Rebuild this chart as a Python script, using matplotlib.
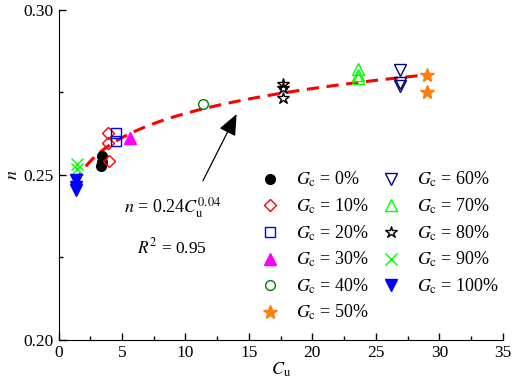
import numpy as np
import matplotlib
matplotlib.use("Agg")
import matplotlib.pyplot as plt
from matplotlib.ticker import MultipleLocator, FormatStrFormatter

plt.rcParams['font.family'] = ['Liberation Serif', 'DejaVu Serif']
plt.rcParams['mathtext.fontset'] = 'stix'

labels = ["0%", "10%", "20%", "30%", "40%", "50%", "60%", "70%", "80%", "90%", "100%"]
cu = {
    "0%": [3.4, 3.4, 3.35],
    "10%": [3.87, 3.87, 4.0],
    "20%": [4.53, 4.53],
    "30%": [5.6],
    "40%": [11.35],
    "50%": [29.0, 29.0],
    "60%": [26.9, 26.9, 26.9],
    "70%": [23.6, 23.6, 23.6],
    "80%": [17.65, 17.65, 17.65],
    "90%": [1.43, 1.43],
    "100%": [1.35, 1.35, 1.35],
}
nval = {
    "0%": [0.2558, 0.2538, 0.2526],
    "10%": [0.2626, 0.2598, 0.2543],
    "20%": [0.2628, 0.2604],
    "30%": [0.2612],
    "40%": [0.2714],
    "50%": [0.2803, 0.2752],
    "60%": [0.2818, 0.2778, 0.2770],
    "70%": [0.2820, 0.2803, 0.2793],
    "80%": [0.2775, 0.2763, 0.2734],
    "90%": [0.2533, 0.2518],
    "100%": [0.2485, 0.2465, 0.2455],
}
styles = {
    "0%": dict(marker='o', color='black', mfc='black', ms=7),
    "10%": dict(marker='D', color='red', mfc='none', ms=6.5),
    "20%": dict(marker='s', color='blue', mfc='none', ms=6.5),
    "30%": dict(marker='^', color='magenta', mfc='magenta', ms=8),
    "40%": dict(marker='o', color='green', mfc='none', ms=7),
    "50%": dict(marker='*', color='#FF7F0E', mfc='#FF7F0E', ms=10),
    "60%": dict(marker='v', color='#000080', mfc='none', ms=8),
    "70%": dict(marker='^', color='#00FF00', mfc='none', ms=8),
    "80%": dict(marker='*', color='black', mfc='none', ms=9),
    "90%": dict(marker='x', color='#00FF00', mfc='none', ms=8),
    "100%": dict(marker='v', color='blue', mfc='blue', ms=8),
}

fit_a, fit_b = 0.245, 0.04
fit_x = np.linspace(1.3, 28.6, 200)

fig = plt.figure(figsize=(5.12, 3.82), dpi=100)
ax = fig.add_axes([0.1143, 0.110, 0.8677, 0.864])

ax.plot(fit_x, fit_a * fit_x ** fit_b, color='red', lw=2.2, ls=(0, (4, 2.5)), zorder=3)

for lab in labels:
    st = styles[lab]
    ax.plot(cu[lab], nval[lab], ls='none', marker=st['marker'], color=st['color'],
            mfc=st['mfc'], ms=st['ms'], mew=1.0, label=r'$G_{\mathrm{c}}$ = ' + lab, zorder=4)

ax.annotate('', xy=(14.13, 0.2692), xytext=(11.28, 0.2475),
            arrowprops=dict(arrowstyle='-|>,head_length=1.3,head_width=0.55', color='black', lw=0.9))
ax.text(9.0, 0.2402, r'$n$ = 0.24$C_{\mathrm{u}}^{0.04}$', fontsize=13, ha='center', va='center')
ax.text(8.9, 0.2279, r'$R^2$ = 0.95', fontsize=12.5, ha='center', va='center')

ax.set_xlim(0, 35)
ax.set_ylim(0.20, 0.30)
ax.xaxis.set_major_locator(MultipleLocator(5))
ax.xaxis.set_minor_locator(MultipleLocator(2.5))
ax.yaxis.set_major_locator(MultipleLocator(0.05))
ax.yaxis.set_minor_locator(MultipleLocator(0.025))
ax.yaxis.set_major_formatter(FormatStrFormatter('%.2f'))
ax.tick_params(which='both', direction='in', labelsize=12.5, width=1)
ax.tick_params(which='major', length=5)
ax.tick_params(which='minor', length=3)
for s in ['top', 'right']:
    ax.spines[s].set_visible(False)
ax.set_xlabel(r'$C_{\mathrm{u}}$', fontsize=13, labelpad=0)
ax.set_ylabel(r'$n$', fontsize=13, labelpad=2)

ax.legend(ncol=2, frameon=False, fontsize=13, loc='upper left', bbox_to_anchor=(0.439, 0.537),
          handlelength=1.0, handletextpad=0.95, columnspacing=0.7, labelspacing=0.40,
          borderaxespad=0)

fig.savefig('out.png', dpi=100)
